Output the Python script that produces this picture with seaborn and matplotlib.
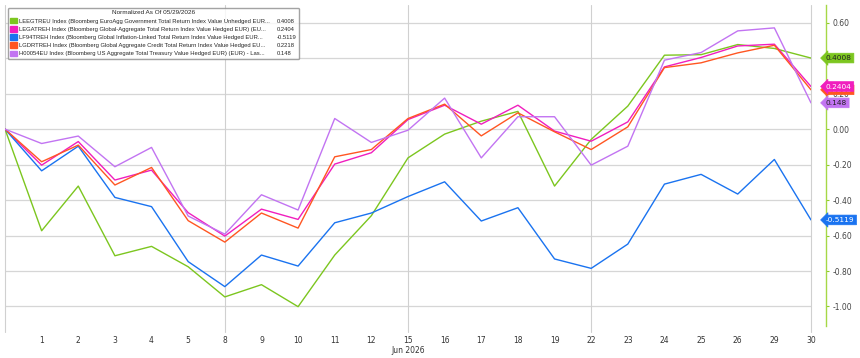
import pandas as pd
import matplotlib.pyplot as plt
import matplotlib.transforms as mtransforms
from matplotlib.patches import Patch
import seaborn as sns

# Trading days (first point = normalization date 05/29/2026, unlabeled)
day_labels = ['', '1', '2', '3', '4', '5', '8', '9', '10', '11', '12', '15\nJun 2026',
              '16', '17', '18', '19', '22', '23', '24', '25', '26', '29', '30']

names = [
    'LEEGTREU Index (Bloomberg EuroAgg Government Total Return Index Value Unhedged EUR...',
    'LEGATREH Index (Bloomberg Global-Aggregate Total Return Index Value Hedged EUR) (EU...',
    'LF94TREH Index (Bloomberg Global Inflation-Linked Total Return Index Value Hedged EUR...',
    'LGDRTREH Index (Bloomberg Global Aggregate Credit Total Return Index Value Hedged EU...',
    'H00054EU Index (Bloomberg US Aggregate Total Treasury Value Hedged EUR) (EUR) - Las...',
]
last_values = ['0.4008', '0.2404', '-0.5119', '0.2218', '0.148']
colors = ['#7cc61f', '#f01ebe', '#1a73f0', '#ff5622', '#c274f2']

leegtreu = [0, -0.573, -0.321, -0.714, -0.661, -0.776, -0.946, -0.877, -1.001, -0.710, -0.488,
            -0.162, -0.028, 0.045, 0.100, -0.321, -0.058, 0.130, 0.417, 0.420, 0.477, 0.455, 0.4008]
legatreh = [0, -0.203, -0.070, -0.287, -0.231, -0.471, -0.603, -0.451, -0.509, -0.197, -0.133,
            0.054, 0.135, 0.028, 0.135, -0.011, -0.068, 0.041, 0.351, 0.404, 0.469, 0.479, 0.2404]
lf94treh = [0, -0.235, -0.096, -0.385, -0.437, -0.747, -0.888, -0.710, -0.772, -0.528, -0.473,
            -0.380, -0.297, -0.518, -0.443, -0.732, -0.785, -0.648, -0.310, -0.255, -0.366, -0.171, -0.5119]
lgdrtreh = [0, -0.184, -0.090, -0.315, -0.216, -0.516, -0.637, -0.473, -0.558, -0.156, -0.115,
            0.060, 0.141, -0.038, 0.092, -0.015, -0.115, 0.013, 0.347, 0.374, 0.430, 0.473, 0.2218]
h00054eu = [0, -0.081, -0.039, -0.212, -0.103, -0.490, -0.592, -0.370, -0.456, 0.060, -0.075,
            -0.006, 0.175, -0.162, 0.070, 0.070, -0.203, -0.096, 0.389, 0.432, 0.554, 0.571, 0.148]

series = [leegtreu, legatreh, lf94treh, lgdrtreh, h00054eu]
frames = []
for name, vals in zip(names, series):
    frames.append(pd.DataFrame({'idx': range(len(vals)), 'value': vals, 'series': name}))
df = pd.concat(frames, ignore_index=True)

sns.set_style('white')
plt.rcParams['font.family'] = ['DejaVu Sans']
plt.rcParams['axes.unicode_minus'] = False

fig = plt.figure(figsize=(8.6, 3.58), dpi=100)
ax = fig.add_axes([5 / 860, 1 - 326 / 358, 806 / 860, 321 / 358])

sns.lineplot(data=df, x='idx', y='value', hue='series', palette=colors,
             linewidth=1.0, legend=False, ax=ax, zorder=3)

ax.set_xlim(0, len(day_labels) - 1)
ax.set_ylim(-1.11, 0.70)
ax.set_xlabel('')
ax.set_ylabel('')

# grid
yticks = [0.6, 0.4, 0.2, 0.0, -0.2, -0.4, -0.6, -0.8, -1.0]
ax.set_yticks(yticks)
# 0.40 is fully covered by the last-value tag in the original
ax.set_yticklabels(['' if t == 0.4 else f'{t:.2f}' for t in yticks])
ax.grid(axis='y', color='#d6d6d6', linewidth=0.9)
for xv in [0, 6, 11, 16, 22]:
    ax.axvline(xv, ymin=-0.02, color='#d0d0d0', linewidth=0.8, zorder=1, clip_on=False)

ax.set_xticks(range(len(day_labels)))
ax.set_xticklabels(day_labels)
ax.tick_params(axis='x', length=0, labelsize=5.5, labelcolor='#333333', pad=7)

ax.yaxis.tick_right()
ax.tick_params(axis='y', direction='out', length=2.5, width=0.8, color='#8fcc2a',
               labelsize=5.5, labelcolor='#444444', pad=2)
for s in ['top', 'bottom', 'left']:
    ax.spines[s].set_visible(False)
ax.spines['right'].set_position(('outward', 11))
ax.spines['right'].set_color('#a6d846')
ax.spines['right'].set_linewidth(1.0)

# value tags on right axis
trans = mtransforms.blended_transform_factory(ax.transAxes, ax.transData)
tag_text = ['#222222', 'white', 'white', 'white', '#222222']
order = [3, 0, 1, 4, 2]
for i in order:
    ax.text(1.0 + 15 / 806, series[i][-1], last_values[i], transform=trans,
            fontsize=5.3, color=tag_text[i], va='center', ha='left', zorder=10,
            clip_on=False,
            bbox=dict(boxstyle='larrow,pad=0.25', fc=colors[i], ec=colors[i], lw=0.5))

# legend
handles = [Patch(facecolor=c, edgecolor=c) for c in colors]
handles += [Patch(facecolor='none', edgecolor='none') for _ in colors]
leg = ax.legend(handles=handles, labels=names + last_values, ncol=2,
                title='Normalized As Of 05/29/2026', loc='upper left',
                bbox_to_anchor=(8 / 860, 1 - 8 / 358), bbox_transform=fig.transFigure,
                prop={'family': 'Liberation Sans', 'size': 4.25},
                title_fontproperties={'family': 'Liberation Sans', 'size': 4.6},
                handlelength=1.1, handleheight=1.1,
                handletextpad=0.4, columnspacing=-0.3, labelspacing=0.4,
                borderpad=0.4, borderaxespad=0, frameon=True, fancybox=True)
leg.get_frame().set_edgecolor('#8c8c8c')
leg.get_frame().set_linewidth(1.0)
leg.set_zorder(20)

fig.savefig('out.png', dpi=100)
